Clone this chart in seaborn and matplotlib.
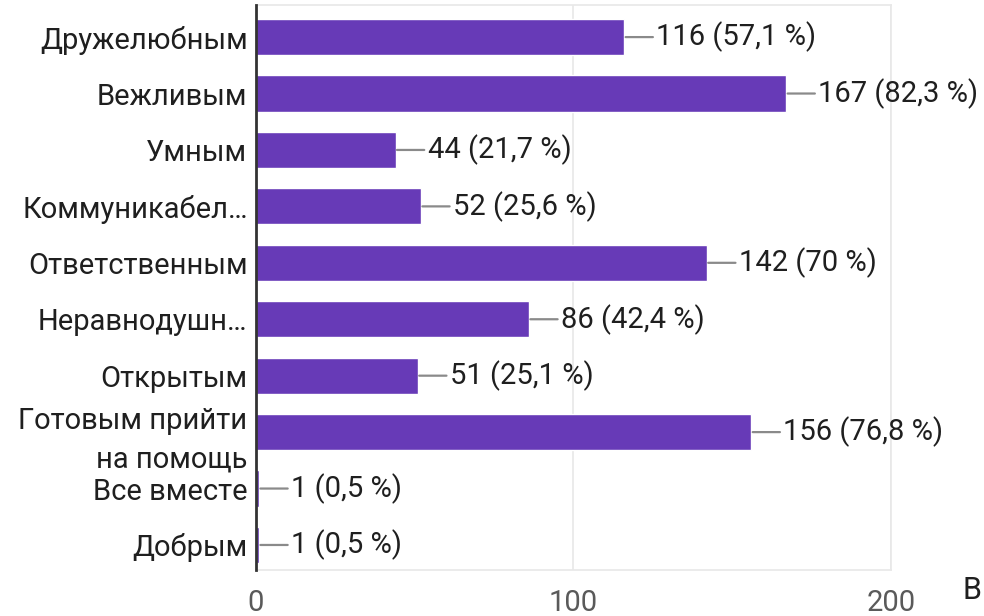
import matplotlib
matplotlib.use("Agg")
import matplotlib.pyplot as plt
import seaborn as sns
import pandas as pd

categories = [
    "Дружелюбным",
    "Вежливым",
    "Умным",
    "Коммуникабел…",
    "Ответственным",
    "Неравнодушн…",
    "Открытым",
    "Готовым прийти\nна помощь",
    "Все вместе",
    "Добрым",
]
counts = [116, 167, 44, 52, 142, 86, 51, 156, 1, 1]
percents = ["57,1", "82,3", "21,7", "25,6", "70", "42,4", "25,1", "76,8", "0,5", "0,5"]
x_ticks = [0, 100, 200]

sns.set_theme(style="white")
plt.rcParams["font.family"] = ["Roboto", "DejaVu Sans"]

df = pd.DataFrame({"category": categories, "count": counts})

fig = plt.figure(figsize=(9.84, 6.16), dpi=100)
ax = fig.add_axes([0.260, 0.075, 0.6455, 0.917])

sns.barplot(data=df, x="count", y="category", color="#673ab7", saturation=1,
            width=0.64, ax=ax, zorder=3)

for i, (c, p) in enumerate(zip(counts, percents)):
    ax.annotate(f"{c} ({p} %)", xy=(c, i), xytext=(23, 0), textcoords="offset points",
                ha="left", va="center", fontsize=21, color="#1f1f1f",
                arrowprops=dict(arrowstyle="-", color="#8a8a8a", lw=1.6,
                                shrinkA=0, shrinkB=1))

ax.set_xlim(0, 200)
ax.set_ylim(len(categories) - 0.56, -0.57)
ax.set_xticks(x_ticks)
ax.set_xticklabels([str(t) for t in x_ticks])
ax.xaxis.grid(True, color="#e8e8e8", lw=1.2, zorder=0)
ax.set_xlabel("")
ax.set_ylabel("")
ax.tick_params(axis="x", length=0, pad=14, labelsize=21, labelcolor="#5a5a5a")
ax.tick_params(axis="y", length=0, pad=6, labelsize=21, labelcolor="#1f1f1f")
for lab in ax.get_yticklabels():
    lab.set_linespacing(1.45)

for s in ["top", "right", "bottom"]:
    ax.spines[s].set_color("#e8e8e8")
    ax.spines[s].set_linewidth(1.2)
ax.spines["left"].set_color("#333333")
ax.spines["left"].set_linewidth(2)
ax.spines["left"].set_zorder(5)

fig.text(0.988, 0.042, "В", fontsize=22, color="#1f1f1f", ha="center", va="center")

fig.savefig("out.png", dpi=100)
